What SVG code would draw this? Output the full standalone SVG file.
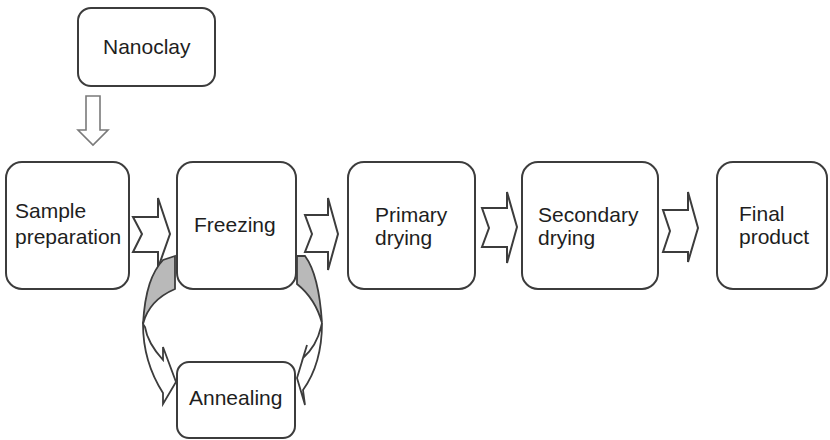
<svg xmlns="http://www.w3.org/2000/svg" width="830" height="440" viewBox="0 0 830 440">
  <style>
    .box { fill: #ffffff; stroke: #3c3c3c; stroke-width: 2; }
    .label { font-family: "Liberation Sans", Arial, sans-serif; font-size: 21px; fill: #1e1e1e; }
    .flow { fill: #ffffff; stroke: #3c3c3c; stroke-width: 2; stroke-linejoin: miter; }
    .down { fill: #ffffff; stroke: #7a7a7a; stroke-width: 1.6; }
    .back { fill: #b9b9b9; stroke: #3c3c3c; stroke-width: 1.8; }
    .front { fill: #ffffff; stroke: #3c3c3c; stroke-width: 1.8; stroke-linejoin: miter; }
  </style>

  <rect width="830" height="440" fill="#ffffff"/>

  <!-- connectors: block arrows and the curved annealing loop -->
  <g id="connectors">
    <!-- nanoclay feed -->
    <path class="down" d="M86,96 L100,96 L100,130 L108,130 L93,145 L78,130 L86,130 Z"/>
    <!-- process chain -->
    <path class="flow" d="M133,217 L158,217 L158,198 L170,234 L158,268 L158,252 L133,252 L142,234 Z"/>
    <path class="flow" d="M305,215 L328,215 L328,198 L338,234 L328,270 L328,252 L305,252 L312,234 Z"/>
    <path class="flow" d="M482,208 L507,208 L507,192 L517,227 L507,263 L507,247 L482,247 L489,228 Z"/>
    <path class="flow" d="M663,210 L688,210 L688,192 L698,228 L688,262 L688,252 L663,252 L670,231 Z"/>

    <!-- freezing -> annealing (left loop) -->
    <path class="back" d="M175,256 L163,260 C152,272 145,290 143,324 C146,312 154,298 175,289 Z"/>
    <path class="front" d="M143,324 C143,345 147,368 163,393 L163,404 L176,382 L163,347 L163,360 C154,350 147,340 145,327 Z"/>

    <!-- annealing -> freezing (right loop) -->
    <path class="back" d="M297,256 L305,256 C314,268 320,292 322,323 C319,312 312,296 297,284 Z"/>
    <path class="front" d="M322,323 C322,348 316,372 303,390 L305,405 L297,378 L307,345 L303,358 C312,350 318,340 321,327 Z"/>
  </g>

  <g id="nanoclay">
    <rect class="box" x="78" y="8" width="137" height="78" rx="13"/>
    <text class="label" x="103" y="54">Nanoclay</text>
  </g>

  <g id="sample-preparation">
    <rect class="box" x="6" y="162" width="123" height="127" rx="16"/>
    <text class="label" x="15" y="218">Sample</text>
    <text class="label" x="15" y="244">preparation</text>
  </g>

  <g id="freezing">
    <rect class="box" x="177" y="162" width="119" height="127" rx="16"/>
    <text class="label" x="194" y="232">Freezing</text>
  </g>

  <g id="primary-drying">
    <rect class="box" x="348" y="162" width="127" height="127" rx="16"/>
    <text class="label" x="375" y="222">Primary</text>
    <text class="label" x="375" y="245">drying</text>
  </g>

  <g id="secondary-drying">
    <rect class="box" x="522" y="162" width="136" height="127" rx="16"/>
    <text class="label" x="538" y="222">Secondary</text>
    <text class="label" x="538" y="245">drying</text>
  </g>

  <g id="final-product">
    <rect class="box" x="717" y="162" width="110" height="127" rx="16"/>
    <text class="label" x="739" y="221">Final</text>
    <text class="label" x="739" y="244">product</text>
  </g>

  <g id="annealing">
    <rect class="box" x="177" y="362" width="118" height="76" rx="12"/>
    <text class="label" x="189" y="405">Annealing</text>
  </g>
</svg>
